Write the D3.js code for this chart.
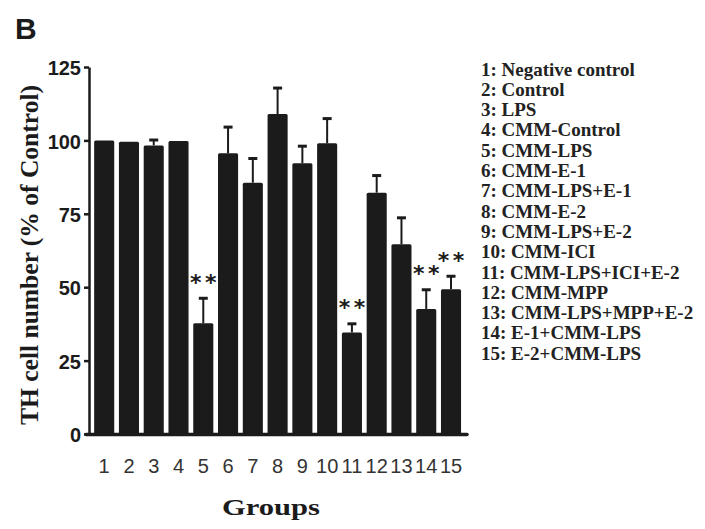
<!DOCTYPE html>
<html>
<head>
<meta charset="utf-8">
<script src="https://cdn.jsdelivr.net/npm/d3@7"></script>
<style>
  html, body { margin: 0; padding: 0; background: #fff; }
  svg { display: block; }
</style>
</head>
<body>
<script>
// ---- data ----
const groups = [1,2,3,4,5,6,7,8,9,10,11,12,13,14,15];
const means  = [100, 99.5, 98.3, 99.8, 37.7, 95.6, 85.6, 109, 92.2, 99, 34.6, 82.2, 64.6, 42.6, 49.3];
const upperErr = [100, 99.5, 100.3, 100, 46.4, 104.7, 94, 118, 98.2, 107.6, 37.7, 88.2, 73.8, 49.3, 53.9];
const significant = [5, 11, 14, 15];
const yTicks = [0, 25, 50, 75, 100, 125];
const legendLabels = [
  "1: Negative control", "2: Control", "3: LPS", "4: CMM-Control", "5: CMM-LPS",
  "6: CMM-E-1", "7: CMM-LPS+E-1", "8: CMM-E-2", "9: CMM-LPS+E-2", "10: CMM-ICI",
  "11: CMM-LPS+ICI+E-2", "12: CMM-MPP", "13: CMM-LPS+MPP+E-2", "14: E-1+CMM-LPS", "15: E-2+CMM-LPS"
];
const yTitle = "TH cell number (% of Control)";
const xTitle = "Groups";
const panelLabel = "B";

// ---- layout ----
const W = 705, H = 529;
const ink = "#1b1b1b";
const svg = d3.select("body").append("svg").attr("width", W).attr("height", H);

const y = d3.scaleLinear().domain([0, 125]).range([434, 67]);
const x = d3.scaleBand().domain(groups).range([91.8, 463.4]).paddingInner(0.19).paddingOuter(0.095);
const axisX = 89;

// panel label
svg.append("text").attr("x", 15).attr("y", 39)
  .attr("font-family", "Liberation Sans, Arial, sans-serif").attr("font-weight", "bold")
  .attr("font-size", 30).attr("fill", ink).text(panelLabel);

// bars
svg.append("g").selectAll("rect").data(groups).join("rect")
  .attr("x", d => x(d)).attr("width", x.bandwidth())
  .attr("y", (d, i) => y(means[i])).attr("height", (d, i) => y(0) - y(means[i]))
  .attr("rx", 1.5).attr("fill", ink);

// error bars
const eg = svg.append("g").attr("stroke", ink);
groups.forEach((g, i) => {
  if (upperErr[i] - means[i] < 0.8) return;
  const cx = x(g) + x.bandwidth() / 2;
  eg.append("line").attr("x1", cx).attr("x2", cx).attr("y1", y(means[i])).attr("y2", y(upperErr[i]))
    .attr("stroke-width", 2);
  eg.append("line").attr("x1", cx - 4.5).attr("x2", cx + 4.5).attr("y1", y(upperErr[i]) + 0.5).attr("y2", y(upperErr[i]) + 0.5)
    .attr("stroke-width", 3);
});

// significance stars
const sg = svg.append("g").attr("font-family", "DejaVu Sans, sans-serif")
  .attr("font-size", 22).attr("font-weight", "bold").attr("fill", ink).attr("text-anchor", "middle");
significant.forEach(g => {
  const i = groups.indexOf(g);
  const cx = x(g) + x.bandwidth() / 2;
  const cy = y(upperErr[i]) - 21;
  [-7.5, 7.5].forEach(dx => {
    sg.append("text").attr("x", cx + dx).attr("y", cy + 13).text("*");
  });
});

// y axis
const yAxis = svg.append("g").attr("transform", `translate(${axisX},0)`)
  .call(d3.axisLeft(y).tickValues(yTicks).tickSize(5).tickSizeOuter(0).tickPadding(3));
yAxis.select(".domain").attr("stroke", ink).attr("stroke-width", 2.5);
yAxis.selectAll(".tick line").attr("stroke", ink).attr("stroke-width", 2.5);
yAxis.selectAll(".tick text")
  .attr("font-family", "Liberation Sans Narrow, Arial Narrow, sans-serif")
  .attr("font-weight", "bold").attr("font-size", 20).attr("fill", ink).attr("dy", "0.38em");

// x axis line
svg.append("line").attr("x1", axisX - 3).attr("x2", 467).attr("y1", y(0) + 0.5).attr("y2", y(0) + 0.5)
  .attr("stroke", ink).attr("stroke-width", 3.5).attr("stroke-linecap", "round");

// x tick labels
const xAxis = svg.append("g").attr("transform", `translate(0,${y(0)})`)
  .call(d3.axisBottom(x).tickSize(0).tickPadding(39));
xAxis.select(".domain").remove();
xAxis.selectAll(".tick text")
  .attr("font-family", "Liberation Sans Narrow, Arial Narrow, sans-serif")
  .attr("font-size", 20).attr("fill", "#333").attr("dy", "0");

// axis titles
svg.append("text").attr("transform", "translate(38,255) rotate(-90)")
  .attr("text-anchor", "middle").attr("font-family", "Liberation Serif, Times New Roman, serif")
  .attr("font-weight", "bold").attr("font-size", 26).attr("fill", ink)
  .attr("textLength", 340).attr("lengthAdjust", "spacingAndGlyphs").text(yTitle);

svg.append("text").attr("x", 271).attr("y", 515)
  .attr("text-anchor", "middle").attr("font-family", "Liberation Serif, Times New Roman, serif")
  .attr("font-weight", "bold").attr("font-size", 24).attr("fill", ink)
  .attr("textLength", 98).attr("lengthAdjust", "spacingAndGlyphs").text(xTitle);

// legend
svg.append("g").selectAll("text").data(legendLabels).join("text")
  .attr("x", 481).attr("y", (d, i) => 75.5 + i * 20.3)
  .attr("font-family", "Liberation Serif, Times New Roman, serif")
  .attr("font-weight", "bold").attr("font-size", 19).attr("fill", "#222")
  .text(d => d);
</script>
</body>
</html>
